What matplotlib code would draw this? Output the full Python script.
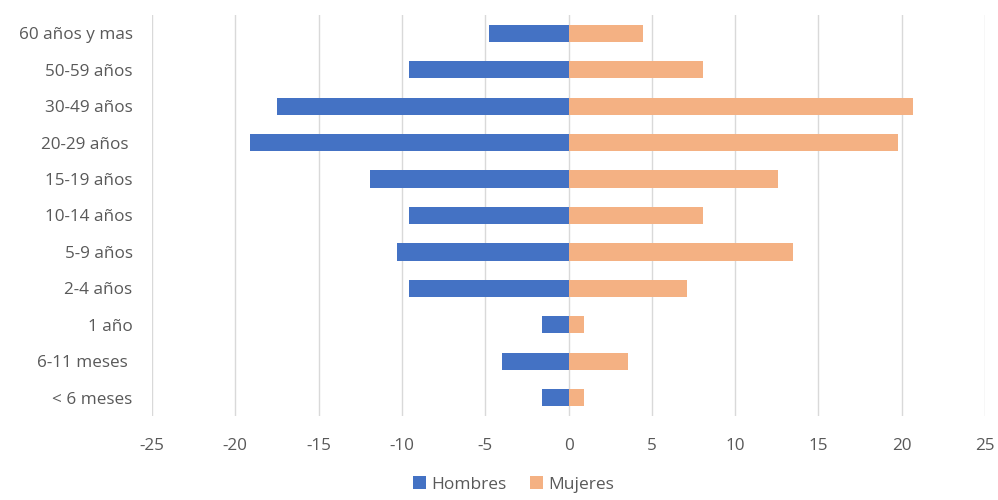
import numpy as np
import matplotlib.pyplot as plt

plt.rcParams['font.family'] = ['Open Sans', 'DejaVu Sans']

grupos = ['< 6 meses', '6-11 meses ', '1 año', '2-4 años', '5-9 años', '10-14 años',
          '15-19 años', '20-29 años ', '30-49 años', '50-59 años', '60 años y mas']
hombres = [-1.6, -4.0, -1.6, -9.6, -10.3, -9.6, -11.9, -19.1, -17.5, -9.6, -4.8]
mujeres = [0.9, 3.6, 0.9, 7.1, 13.5, 8.1, 12.6, 19.8, 20.7, 8.1, 4.5]
ticks = [-25, -20, -15, -10, -5, 0, 5, 10, 15, 20, 25]

fig = plt.figure(figsize=(9.98, 5), dpi=100)
ax = fig.add_axes([0.1523, 0.168, 0.8347, 0.802])

y = np.arange(len(grupos))
ax.barh(y, hombres, height=0.47, color='#4472C4', label='Hombres', zorder=3)
ax.barh(y, mujeres, height=0.47, color='#F4B183', label='Mujeres', zorder=3)

ax.set_xlim(-25, 25)
ax.set_ylim(-0.5, len(grupos) - 0.5)
ax.set_xticks(ticks)
ax.set_xticklabels([str(t) for t in ticks])
ax.set_yticks(y)
ax.set_yticklabels(grupos)
ax.grid(axis='x', color='#D9D9D9', linewidth=1, zorder=0)
for s in ax.spines.values():
    s.set_visible(False)
ax.tick_params(axis='both', length=0, colors='#595959', labelsize=12.3)
ax.tick_params(axis='x', pad=16)
ax.tick_params(axis='y', pad=14)

ax.legend(loc='upper center', bbox_to_anchor=(0.434, -0.12), ncol=2, frameon=False,
          fontsize=12.5, handlelength=0.75, handleheight=0.75, handletextpad=0.35,
          columnspacing=1.3, labelcolor='#595959', borderpad=0.2)

fig.savefig('out.png', dpi=100)
